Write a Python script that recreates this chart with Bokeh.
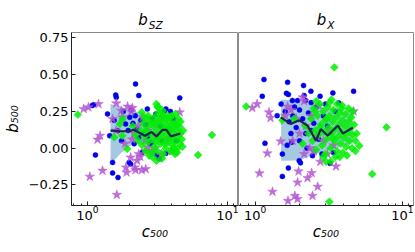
from bokeh.plotting import figure
from bokeh.layouts import row, column
from bokeh.models import FixedTicker, Range1d, Div, Spacer
from bokeh.embed import file_html
from bokeh.resources import INLINE
import math

# ---------------- data ----------------
# left panel: b_SZ
sz_blue_c = [2.2, 2.32, 1.59, 1.605, 4.54, 1.39, 1.11, 1.08, 2.67, 3.53, 3.62, 3.07, 2.19, 2.11, 1.87,
             1.64, 1.44, 1.14, 1.51, 1.51, 1.65, 1.98, 2.03, 3.1, 3.62, 3.15, 3.26, 2.79, 2.85, 2.32,
             3.82, 2.0, 2.4, 2.5, 2.6, 2.25, 2.9, 3.3, 1.75, 1.95, 2.15, 2.45, 3.4, 4.1, 4.3, 1.8,
             2.7, 3.9, 1.55, 2.05]
sz_blue_b = [0.437, 0.358, 0.362, 0.346, 0.342, 0.233, 0.296, 0.29, 0.267, 0.255, 0.267, 0.233, 0.221,
             0.169, 0.165, 0.119, 0.085, -0.046, -0.097, -0.169, -0.199, -0.097, -0.108, -0.046, -0.035,
             -0.058, -0.074, 0.029, 0.04, 0.074, 0.131, 0.21, 0.19, 0.1, 0.16, 0.13, 0.2, 0.15, 0.05,
             0.12, 0.03, -0.03, 0.05, 0.2, 0.05, 0.25, 0.08, 0.25, 0.19, 0.26]

sz_star_c = [0.94, 1.016, 1.2, 1.605, 1.93, 2.09, 1.51, 1.74, 4.54, 3.35, 1.23, 1.18, 1.04, 1.28, 1.62,
             1.88, 1.9, 2.2, 2.44, 2.6, 2.26, 2.38, 2.58, 2.86, 3.35, 2.03, 1.77, 2.47, 2.98, 3.44,
             2.32, 2.17, 2.71, 2.9, 3.04, 2.58, 2.08, 2.05, 1.6, 2.3, 2.7, 3.1, 1.85, 2.15, 3.7, 4.0]
sz_star_b = [0.267, 0.278, 0.30, 0.305, 0.283, 0.274, 0.199, 0.255, 0.244, 0.221, 0.085, 0.058, -0.194,
             -0.153, -0.317, -0.131, -0.165, -0.149, -0.149, -0.142, -0.085, -0.058, -0.017, -0.029,
             -0.04, -0.063, 0.21, 0.21, 0.165, 0.21, -0.04, -0.131, 0.005, -0.02, 0.0, 0.051, 0.06,
             0.25, 0.12, 0.15, 0.12, 0.08, 0.03, 0.1, 0.05, -0.02]

sz_dia_c = [0.854, 7.7, 6.13, 1.7, 1.55, 1.77, 1.92, 1.78, 3.1, 4.35, 4.75, 3.1, 3.16, 2.44, 3.44, 3.72,
            3.92, 4.24, 2.71, 3.2,
            2.3, 2.4, 2.45, 2.5, 2.55, 2.6, 2.65, 2.7, 2.75, 2.8, 2.85, 2.9, 2.95, 3.0, 3.0, 3.05, 3.1,
            3.15, 3.2, 3.25, 3.3, 3.3, 3.35, 3.4, 3.45, 3.5, 3.55, 3.6, 3.6, 3.65, 3.7, 3.75, 3.8, 3.85,
            3.9, 3.95, 4.0, 4.05, 4.1, 4.15, 4.2, 4.3, 4.35, 4.4, 4.5, 4.55, 4.6, 4.7, 4.8, 2.55, 2.9,
            3.2, 3.5, 4.0, 3.9, 4.45, 2.2, 2.1, 2.75, 3.4, 4.2, 3.05, 2.85, 3.55, 3.75, 4.1, 2.6, 3.25,
            4.6, 4.25]
sz_dia_b = [0.228, 0.09, -0.046, 0.165, 0.074, 0.085, -0.005, 0.20, -0.085, -0.005, 0.01, 0.30, 0.28,
            0.244, 0.255, 0.221, 0.074, 0.233, 0.221, 0.28,
            0.05, 0.12, 0.02, 0.17, 0.08, -0.02, 0.14, 0.04, 0.19, 0.10, -0.03, 0.06, 0.15, 0.21, 0.01,
            0.11, 0.18, -0.02, 0.07, 0.14, 0.23, 0.03, 0.10, 0.17, -0.04, 0.06, 0.13, 0.20, 0.0, 0.09,
            0.15, 0.04, 0.11, 0.18, -0.02, 0.07, 0.14, 0.02, 0.10, 0.17, 0.05, 0.12, -0.03, 0.08, 0.15,
            0.03, 0.10, 0.06, 0.12, 0.21, -0.06, 0.24, 0.22, 0.22, 0.21, 0.20, 0.09, 0.15, -0.05, -0.07,
            -0.04, 0.05, 0.17, 0.03, 0.13, 0.0, 0.11, 0.19, 0.18, 0.16]

sz_band_c = [1.46, 1.75, 2.05, 2.4, 2.8, 3.2, 3.6, 4.0, 4.6]
sz_band_hi = [0.30, 0.28, 0.26, 0.24, 0.22, 0.22, 0.21, 0.21, 0.20]
sz_band_lo = [-0.11, -0.03, 0.02, 0.03, 0.02, 0.02, 0.03, 0.03, 0.04]

sz_med_c = [1.46, 1.7, 2.0, 2.13, 2.57, 2.86, 3.1, 3.43, 3.65, 3.93, 4.59]
sz_med_b = [0.12, 0.115, 0.115, 0.125, 0.085, 0.11, 0.08, 0.125, 0.125, 0.08, 0.10]

# right panel: b_X
x_blue_c = [1.147, 1.117, 1.66, 1.63, 1.68, 2.13, 2.39, 2.76, 3.37, 4.66, 1.41, 1.79, 1.94, 2.15, 2.2,
            2.4, 3.7, 1.165, 1.53, 1.53, 1.68, 1.99, 2.03, 1.77, 2.45, 3.22, 3.4, 2.84, 1.6, 1.7, 1.8,
            1.9, 2.0, 2.1, 2.2, 2.3, 2.5, 2.6, 2.7, 1.75, 1.5, 2.0, 1.85, 2.4, 2.9, 3.1, 3.5, 1.65,
            2.25, 3.0]
x_blue_b = [0.467, 0.353, 0.448, 0.373, 0.365, 0.426, 0.387, 0.353, 0.376, 0.387, 0.221, 0.324, 0.324,
            0.358, 0.324, 0.31, 0.308, 0.033, -0.04, -0.192, -0.135, -0.085, -0.1, 0.04, -0.051, -0.103,
            -0.03, -0.04, 0.25, 0.18, 0.22, 0.14, 0.26, 0.2, 0.1, 0.24, 0.17, 0.28, 0.06, 0.1, 0.3,
            0.05, 0.28, 0.12, 0.22, 0.15, 0.25, 0.02, 0.0, 0.3]

x_star_c = [0.954, 1.03, 1.24, 1.27, 1.66, 2.1, 2.15, 2.7, 4.66, 1.07, 1.21, 1.31, 1.49, 1.67, 1.86,
            1.94, 1.94, 1.97, 2.27, 2.42, 2.45, 2.66, 3.54, 2.15, 2.35, 2.77, 3.1, 1.6, 1.75, 1.9,
            2.0, 2.2, 2.4, 2.6, 2.9, 3.2, 3.4, 1.8, 2.5]
x_star_b = [0.274, 0.30, 0.244, 0.206, 0.283, 0.346, 0.32, 0.29, 0.251, -0.171, -0.035, -0.296, 0.046,
            -0.358, -0.324, -0.346, -0.233, -0.158, -0.203, -0.169, -0.324, -0.262, -0.124, -0.04, 0.0,
            -0.092, -0.04, 0.22, 0.26, 0.2, 0.1, 0.15, 0.22, 0.08, 0.05, 0.12, 0.02, 0.05, -0.02]

x_dia_c = [3.45, 0.868, 7.8, 3.19, 6.24, 3.03, 3.26, 3.75, 5.1, 4.8, 3.3, 3.9,
           2.4, 2.45, 2.5, 2.55, 2.6, 2.65, 2.7, 2.75, 2.8, 2.85, 2.9, 2.95, 3.0, 3.0, 3.05, 3.1, 3.15,
           3.2, 3.25, 3.3, 3.35, 3.4, 3.45, 3.5, 3.55, 3.6, 3.65, 3.7, 3.75, 3.8, 3.85, 3.9, 3.95, 4.0,
           4.05, 4.1, 4.15, 4.2, 4.3, 4.35, 4.4, 4.5, 4.55, 4.6, 4.7, 4.8, 2.6, 3.6, 4.3, 2.3, 2.2,
           1.53, 1.84, 2.1, 3.2, 4.6, 2.9, 3.5, 4.2, 2.75, 3.35, 3.85, 4.9, 2.55, 3.05]
x_dia_b = [0.55, 0.283, 0.142, -0.364, -0.176, -0.092, -0.09, -0.06, 0.017, -0.02, 0.33, 0.29,
           0.2, 0.05, 0.27, 0.12, -0.01, 0.22, 0.09, 0.3, 0.16, 0.02, 0.25, 0.11, 0.19, -0.04, 0.06,
           0.28, 0.14, 0.22, 0.0, 0.1, 0.18, 0.26, 0.05, 0.13, 0.21, -0.02, 0.08, 0.16, 0.24, 0.03,
           0.11, 0.19, -0.03, 0.07, 0.15, 0.23, 0.01, 0.1, 0.18, 0.05, 0.13, 0.21, 0.0, 0.09, 0.16,
           0.05, 0.32, 0.3, 0.27, 0.1, 0.15, 0.19, 0.2, 0.03, 0.31, 0.25, -0.06, -0.06, -0.05, 0.14,
           0.07, 0.27, 0.1, 0.25, 0.2]

x_band_c = [1.5, 1.75, 2.05, 2.4, 2.8, 3.2, 3.6, 4.0, 4.6]
x_band_hi = [0.33, 0.33, 0.32, 0.30, 0.28, 0.27, 0.27, 0.26, 0.25]
x_band_lo = [-0.085, -0.085, -0.08, -0.05, -0.03, -0.01, 0.0, 0.02, 0.03]

x_med_c = [1.49, 1.745, 1.99, 2.27, 2.59, 2.79, 3.11, 3.37, 3.64, 3.94, 4.61]
x_med_b = [0.21, 0.165, 0.19, 0.153, 0.051, 0.13, 0.085, 0.12, 0.153, 0.10, 0.14]

title_base = "b"
title_subs = ["SZ", "X"]
x_label = "c\u2085\u2080\u2080"
y_label = "b\u2085\u2080\u2080"
x_ticks = [1, 10]
x_minor = [0.8, 0.9, 2, 3, 4, 5, 6, 7, 8, 9, 11]
y_ticks = [-0.25, 0.0, 0.25, 0.5, 0.75]
y_tick_labels = ["\u22120.25", "0.00", "0.25", "0.50", "0.75"]

# ---------------- styling ----------------
BLUE = "#0000ee"
GREEN = "#00ee00"
PURPLE = "#b455d0"
BAND = "#1f77b4"
LINE = "#17284a"
FONT = "DejaVu Sans"
X_LO, X_HI = 0.77, 11.9
Y_LO, Y_HI = -0.39, 0.787
TOP = 31

x_range = Range1d(X_LO, X_HI)
y_range = Range1d(Y_LO, Y_HI)


def title_div(sub, width):
    html = ('<div style="width:%dpx;text-align:center;font-family:\'DejaVu Sans\';font-size:15px;'
            'line-height:15px;padding-top:13px;color:black;white-space:nowrap">'
            '<i>%s</i><span style="font-style:italic;font-size:10.5px;position:relative;top:4px;'
            'margin-left:1px">%s</span></div>') % (width, title_base, sub)
    return Div(text=html, width=width, height=TOP, margin=0)


def make_panel(first, bc, bb, sc, sb, dc, db, band_c, band_hi, band_lo, med_c, med_b):
    if first:
        w, mbl, mbr = 238, 63, 0
    else:
        w, mbl, mbr = 177, 0, 2
    p = figure(width=w, height=252 - TOP, x_axis_type="log", x_range=x_range, y_range=y_range,
               output_backend="svg", toolbar_location=None,
               y_axis_location="left" if first else None,
               min_border_left=mbl, min_border_right=mbr, min_border_top=1, min_border_bottom=47)
    p.grid.visible = False
    p.outline_line_color = "#8a8a8a"
    p.outline_line_width = 1
    p.background_fill_color = "white"
    p.border_fill_color = "white"

    p.varea(x=band_c, y1=band_lo, y2=band_hi, fill_color=BAND, fill_alpha=0.4)
    p.scatter(bc, bb, marker="circle", size=5, fill_color=BLUE, line_color=BLUE, line_width=0.5)
    p.scatter(sc, sb, marker="star", size=10, fill_color=PURPLE, line_color=PURPLE,
              fill_alpha=0.85, line_alpha=0.85, line_width=0.5)
    p.scatter(dc, db, marker="square", angle=math.pi / 4, size=5.6, fill_color=GREEN,
              line_color=GREEN, fill_alpha=0.85, line_alpha=0.85, line_width=0.5)
    p.line(med_c, med_b, line_color=LINE, line_width=2.2)

    xa = p.xaxis[0]
    xa.ticker = FixedTicker(ticks=x_ticks, minor_ticks=x_minor)
    xa.axis_label = x_label
    xa.axis_label_text_font = FONT
    xa.axis_label_text_font_style = "italic"
    xa.axis_label_text_font_size = "15px"
    xa.axis_label_text_color = "black"
    xa.axis_label_standoff = 0
    xa.major_label_text_font = FONT
    xa.major_label_text_font_size = "13px"
    xa.major_label_text_color = "black"
    xa.major_label_standoff = 0
    xa.major_tick_in = 4
    xa.major_tick_out = 0
    xa.minor_tick_in = 2
    xa.minor_tick_out = 0
    xa.axis_line_color = "#222222"
    xa.major_tick_line_color = "#222222"
    xa.minor_tick_line_color = "#222222"

    if first:
        ya = p.yaxis[0]
        ya.ticker = FixedTicker(ticks=y_ticks, minor_ticks=[])
        ya.major_label_overrides = dict(zip(y_ticks, y_tick_labels))
        ya.major_tick_in = 4
        ya.major_tick_out = 0
        ya.minor_tick_in = 0
        ya.minor_tick_out = 0
        ya.axis_label = y_label
        ya.axis_label_text_font = FONT
        ya.axis_label_text_font_style = "italic"
        ya.axis_label_text_font_size = "15px"
        ya.axis_label_text_color = "black"
        ya.axis_label_standoff = 4
        ya.major_label_text_font = FONT
        ya.major_label_text_font_size = "13px"
        ya.major_label_text_color = "black"
        ya.major_label_standoff = 3
        ya.axis_line_color = "#222222"
        ya.major_tick_line_color = "#222222"
    return p


left = make_panel(True, sz_blue_c, sz_blue_b, sz_star_c, sz_star_b, sz_dia_c, sz_dia_b,
                  sz_band_c, sz_band_hi, sz_band_lo, sz_med_c, sz_med_b)
right = make_panel(False, x_blue_c, x_blue_b, x_star_c, x_star_b, x_dia_c, x_dia_b,
                   x_band_c, x_band_hi, x_band_lo, x_med_c, x_med_b)

titles = row(Spacer(width=63, height=TOP, margin=0), title_div(title_subs[0], 175),
             title_div(title_subs[1], 175), spacing=0)
layout = column(titles, row(left, right, spacing=0), spacing=0)
open("out.html", "w").write(file_html(layout, INLINE))
